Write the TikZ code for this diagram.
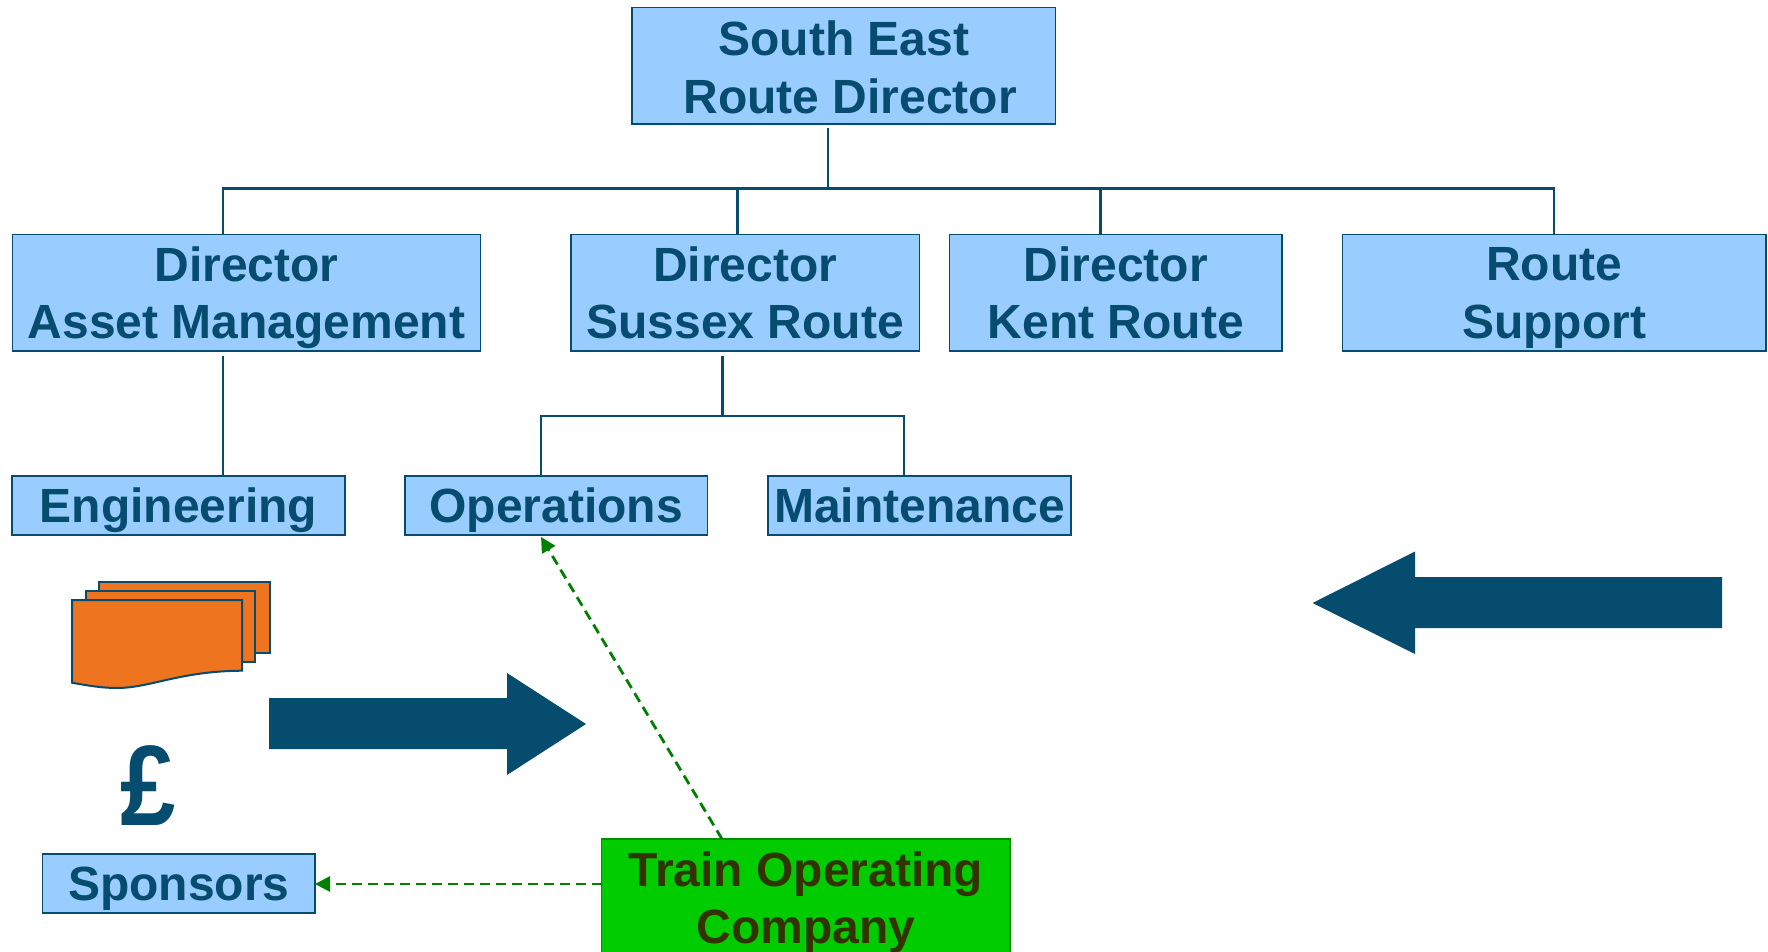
\documentclass[tikz,border=0pt]{standalone}
\usepackage{fontspec}
\setmainfont{Liberation Sans}
\usetikzlibrary{arrows.meta,calc}
\definecolor{boxblue}{HTML}{99CCFF}
\definecolor{navy}{HTML}{054C6E}
\definecolor{orangefill}{HTML}{EE7420}
\definecolor{tocgreen}{HTML}{00CC00}
\definecolor{toctext}{HTML}{333300}
\definecolor{dashgreen}{HTML}{008000}
\tikzset{
  orgbox/.style={draw=navy,line width=1.1pt,fill=boxblue,text=navy,align=center,inner sep=0pt,text depth=0pt,
    font=\fontsize{48}{57.5}\selectfont\bfseries,anchor=center},
  tocbox/.style={draw=dashgreen!80!tocgreen,line width=1.1pt,fill=tocgreen,text=toctext,align=center,inner sep=0pt,text depth=0pt,
    font=\fontsize{48}{57.5}\selectfont\bfseries,anchor=center},
  link/.style={draw=navy,line width=2.7pt},
  dep/.style={draw=dashgreen,line width=2.8pt,dash pattern=on 10pt off 6pt,
    -{Triangle[length=15pt,width=15pt]}},
  sheet/.style={draw=navy,line width=2pt,fill=orangefill},
  bigarrow/.style={fill=navy,draw=none},
}
\newcommand{\bx}[8][orgbox]{%
  \node[#1,minimum width=#5pt-#3pt,minimum height=#6pt-#4pt] (#2) at ({(#3+#5)/2},{(#4+#6)/2}) {#7};}
\begin{document}
\begin{tikzpicture}[x=1pt,y=-1pt]
\clip (0,0) rectangle (1768,952);
\fill[white] (0,0) rectangle (1768,952);
\bx{top}{632}{7.5}{1055.5}{124}{\rule{0pt}{37.5pt}South East\\[1.2pt]\hspace*{13pt}Route Director}{}
\bx{am}{12.5}{234.5}{480.5}{351}{Director\\Asset Management}{}
\bx{sx}{571}{234.5}{919.5}{351}{Director\\Sussex Route}{}
\bx{kt}{949.5}{234.5}{1282}{351}{Director\\Kent Route}{}
\bx{rs}{1342.5}{234.5}{1766}{351}{Route\\Support}{}
\bx{eng}{12}{476}{345}{535}{Engineering}{}
\bx{ops}{405}{476}{707.5}{535}{Operations}{}
\bx{mnt}{768}{476}{1071}{535}{Maintenance}{}
\bx{spo}{42.5}{854}{315}{913}{Sponsors}{}
\bx[tocbox]{toc}{601.5}{839}{1010}{956}{Train Operating\\Company}{}
% bus coordinates
\coordinate (topfoot) at (828,128);
\coordinate (busT) at (828,188.5);
\coordinate (busA) at (223,188.5);
\coordinate (busB) at (737.5,188.5);
\coordinate (busC) at (1100.5,188.5);
\coordinate (busD) at (1554,188.5);
\coordinate (amfoot) at (223,355.5);
\coordinate (sxfoot) at (722.5,355.5);
\coordinate (sxbus) at (722.5,416);
\coordinate (busO) at (541,416);
\coordinate (busM) at (904,416);
\draw[link] (topfoot) -- (busT);
\draw[link,line join=miter] (am.north -| busA) -- (busA) -- (busD) -- (rs.north -| busD);
\draw[link] (busB) -- (sx.north -| busB);
\draw[link] (busC) -- (kt.north -| busC);
\draw[link] (amfoot) -- (eng.north -| amfoot);
\draw[link] (sxfoot) -- (sxbus);
\draw[link] (ops.north -| busO) -- (busO) -- (busM) -- (mnt.north -| busM);
% dependencies
\coordinate (opsTip) at (541,537);
\coordinate (tocOut) at (722,839);
\coordinate (tocLeft) at (601.5,884);
\coordinate (spoRight) at (315,884);
\draw[dep] (tocOut) -- (opsTip);
\draw[dep] (tocLeft) -- (spoRight);
% documents
\draw[sheet] (99,581.5) rectangle (269.5,652.5);
\draw[sheet] (86,590.5) rectangle (254.5,662);
\draw[sheet] (72,600) -- (242,600) -- (242,670.7)
  .. controls (180,671) and (150,688) .. (117,688)
  .. controls (103,688) and (90,686) .. (72,682.7) -- cycle;
% pound sign
\node[text=navy,font=\fontsize{108}{108}\selectfont\bfseries,inner sep=0pt,xscale=.92,yscale=1.06,transform shape] (pound) at (148,785.5) {£};
% big arrows
\path[bigarrow] (269,698) -- (507,698) -- (507,673) -- (586,724) -- (507,775) -- (507,749) -- (269,749) -- cycle;
\path[bigarrow] (1722,577) -- (1415,577) -- (1415,551.5) -- (1312.5,603) -- (1415,654) -- (1415,628) -- (1722,628) -- cycle;
\end{tikzpicture}
\end{document}
